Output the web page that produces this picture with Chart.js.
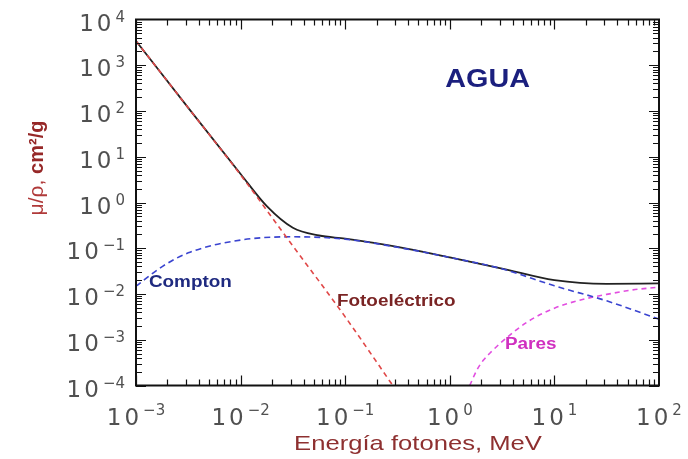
<!DOCTYPE html>
<html>
<head>
<meta charset="utf-8">
<script src="https://cdn.jsdelivr.net/npm/chart.js@4"></script>
<style>
    html, body { margin: 0; padding: 0; background: #fff; }
    canvas { display: block; }
</style>
</head>
<body>
<canvas id="aguaChart" width="688" height="459"></canvas>
<script>
// Coeficientes de atenuación másica del agua (cm2/g)
const energyPhoto = [0.001, 0.00316, 0.01, 0.0316, 0.1, 0.316];
const muPhoto = [3400, 117, 4.0, 0.112, 0.00316, 0.000071];

const energyCompton = [0.001, 0.00178, 0.00316, 0.01, 0.0316, 0.1, 0.316, 1, 3.16, 10, 31.6, 100];
const muCompton = [0.0148, 0.0398, 0.0794, 0.151, 0.178, 0.158, 0.105, 0.063, 0.0355, 0.0151, 0.00708, 0.00282];

const energyPairs = [1.55, 1.82, 2.1, 2.54, 3.16, 5.6, 10, 17.8, 31.6, 56.2, 100];
const muPairs = [0.0001, 0.00022, 0.00036, 0.00057, 0.00091, 0.0025, 0.0049, 0.0074, 0.0098, 0.0123, 0.0141];

const energyTotal = [0.001, 0.00316, 0.01, 0.0178, 0.0316, 0.0562, 0.1, 0.316, 1, 3.16, 10, 31.6, 100];
const muTotal = [3400, 117, 4.2, 0.83, 0.28, 0.19, 0.162, 0.107, 0.063, 0.036, 0.02, 0.0166, 0.017];

const xTicks = [0.001, 0.01, 0.1, 1, 10, 100];
const yTicks = [1e-4, 1e-3, 1e-2, 1e-1, 1, 10, 100, 1000, 10000];

const toPoints = (xs, ys) => xs.map((x, i) => ({ x: x, y: ys[i] }));

const supMinus = '\u2212';
const expText = v => {
    const e = Math.round(Math.log10(v));
    return e < 0 ? supMinus + Math.abs(e) : String(e);
};

// texto algo ensanchado, como en la figura original
function wideText(ctx, text, x, y, sx) {
    ctx.save();
    ctx.translate(x, y);
    ctx.scale(sx, 1);
    ctx.fillText(text, 0, 0);
    ctx.restore();
}

// marcas hacia dentro en los cuatro lados, etiquetas 10^n y textos
const framePlugin = {
    id: 'frame',
    afterDraw(chart) {
        const ctx = chart.ctx;
        const area = chart.chartArea;
        const xs = chart.scales.x;
        const ys = chart.scales.y;

        ctx.save();
        ctx.strokeStyle = '#111';
        ctx.lineWidth = 1.2;
        ctx.beginPath();
        for (let d = -3; d < 2; d++) {
            for (let m = 1; m <= 9; m++) {
                const px = Math.round(xs.getPixelForValue(m * Math.pow(10, d))) + 0.5;
                const len = m === 1 ? 10 : 6;
                ctx.moveTo(px, area.bottom); ctx.lineTo(px, area.bottom - len);
                ctx.moveTo(px, area.top); ctx.lineTo(px, area.top + len);
            }
        }
        for (let d = -4; d < 4; d++) {
            for (let m = 1; m <= 9; m++) {
                const py = Math.round(ys.getPixelForValue(m * Math.pow(10, d))) + 0.5;
                const len = m === 1 ? 10 : 6;
                ctx.moveTo(area.left, py); ctx.lineTo(area.left + len, py);
                ctx.moveTo(area.right, py); ctx.lineTo(area.right - len, py);
            }
        }
        ctx.stroke();

        ctx.lineWidth = 2;
        ctx.strokeRect(area.left, area.top, area.right - area.left, area.bottom - area.top);

        // etiquetas de los ejes
        ctx.fillStyle = '#505050';
        ctx.textBaseline = 'alphabetic';
        const baseFont = '23px "DejaVu Sans"';
        const supFont = '15px "DejaVu Sans"';

        yTicks.forEach(v => {
            const py = ys.getPixelForValue(v);
            const ex = expText(v);
            ctx.font = supFont;
            const wExp = ctx.measureText(ex).width;
            ctx.textAlign = 'left';
            ctx.fillText(ex, 125 - wExp, py + 2);
            ctx.font = baseFont;
            ctx.letterSpacing = '3px';
            const wBase = ctx.measureText('10').width;
            ctx.fillText('10', 125 - wExp - 1 - wBase, py + 11);
            ctx.letterSpacing = '0px';
        });

        xTicks.forEach(v => {
            const px = xs.getPixelForValue(v);
            const ex = expText(v);
            ctx.font = supFont;
            const wExp = ctx.measureText(ex).width;
            ctx.font = baseFont;
            ctx.letterSpacing = '3px';
            const wBase = ctx.measureText('10').width;
            const start = px - (wBase + 1 + wExp) / 2;
            ctx.textAlign = 'left';
            ctx.fillText('10', start, area.bottom + 39);
            ctx.letterSpacing = '0px';
            ctx.font = supFont;
            ctx.fillText(ex, start + wBase + 1, area.bottom + 29);
        });

        // título eje x
        ctx.fillStyle = '#8e3030';
        ctx.font = '21px "Liberation Sans"';
        ctx.textAlign = 'center';
        wideText(ctx, 'Energía fotones, MeV', 418, 450, 1.22);

        // título eje y (girado)
        ctx.save();
        ctx.translate(43, 168);
        ctx.rotate(-Math.PI / 2);
        ctx.textAlign = 'left';
        ctx.font = '21px "Liberation Sans"';
        const p1 = 'μ/ρ, ';
        const w1 = ctx.measureText(p1).width;
        ctx.font = 'bold 20px "Liberation Sans"';
        const p2 = 'cm²/g';
        const w2 = ctx.measureText(p2).width;
        const x0 = -(w1 + w2) / 2;
        ctx.fillStyle = '#b03a3a';
        ctx.font = '21px "Liberation Sans"';
        ctx.fillText(p1, x0, 0);
        ctx.fillStyle = '#962828';
        ctx.font = 'bold 20px "Liberation Sans"';
        ctx.fillText(p2, x0 + w1, 0);
        ctx.restore();

        // textos dentro del gráfico
        const label = (text, x, y, font, color, align, sx) => {
            ctx.font = font;
            ctx.fillStyle = color;
            ctx.textAlign = align;
            ctx.textBaseline = 'middle';
            wideText(ctx, text, xs.getPixelForValue(x), ys.getPixelForValue(y), sx);
        };
        label('AGUA', 2.3, 480, 'bold 25px "Liberation Sans"', '#1b1f7e', 'center', 1.15);
        label('Compton', 0.00133, 0.0174, 'bold 16px "Liberation Sans"', '#1f2a80', 'left', 1.18);
        label('Fotoeléctrico', 0.0835, 0.0067, 'bold 16px "Liberation Sans"', '#7a2424', 'left', 1.18);
        label('Pares', 3.37, 0.00077, 'bold 16px "Liberation Sans"', '#d030c0', 'left', 1.18);

        ctx.restore();
    }
};

const logAxis = (min, max, ticks, size, isX) => ({
    type: 'logarithmic',
    min: min,
    max: max,
    afterBuildTicks: scale => { scale.ticks = ticks.map(v => ({ value: v })); },
    afterFit: scale => {
        if (isX) scale.height = size; else scale.width = size;
    },
    ticks: { display: false },
    grid: { display: false },
    border: { display: false },
    title: { display: false }
});

new Chart(document.getElementById('aguaChart').getContext('2d'), {
    type: 'line',
    data: {
        datasets: [
            {
                label: 'Fotoeléctrico',
                data: toPoints(energyPhoto, muPhoto),
                borderColor: '#e04848',
                borderWidth: 1.6,
                borderDash: [5, 4],
                order: 0
            },
            {
                label: 'Compton',
                data: toPoints(energyCompton, muCompton),
                borderColor: '#3a44d0',
                borderWidth: 1.6,
                borderDash: [6, 4],
                order: 1
            },
            {
                label: 'Pares',
                data: toPoints(energyPairs, muPairs),
                borderColor: '#e24ee0',
                borderWidth: 1.6,
                borderDash: [5, 4],
                order: 2
            },
            {
                label: 'Total',
                data: toPoints(energyTotal, muTotal),
                borderColor: '#222',
                borderWidth: 1.8,
                order: 3
            }
        ]
    },
    options: {
        responsive: false,
        animation: false,
        layout: { padding: { top: 19.5, right: 29, left: 0, bottom: 0 } },
        elements: {
            point: { radius: 0 },
            line: { cubicInterpolationMode: 'monotone', fill: false }
        },
        plugins: {
            legend: { display: false },
            tooltip: { enabled: false }
        },
        scales: {
            x: logAxis(0.001, 100, xTicks, 73.5, true),
            y: logAxis(1e-4, 1e4, yTicks, 136, false)
        }
    },
    plugins: [framePlugin]
});
</script>
</body>
</html>
